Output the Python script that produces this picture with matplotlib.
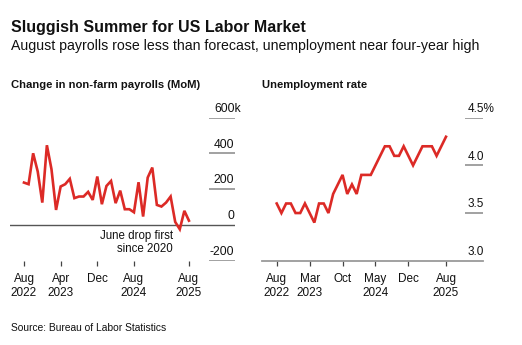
import matplotlib.pyplot as plt
import numpy as np

plt.rcParams['font.family'] = ['Liberation Sans', 'DejaVu Sans']

# monthly data, Aug 2022 .. Aug 2025
payrolls = [237, 228, 401, 299, 125, 446, 312, 84, 215, 228, 258, 150, 159, 159,
            185, 140, 271, 116, 218, 246, 122, 192, 88, 88, 71, 239, 47, 265,
            321, 112, 103, 125, 159, 17, -24, 79, 24]
unemployment = [3.6, 3.5, 3.6, 3.6, 3.5, 3.5, 3.6, 3.5, 3.4, 3.6, 3.6, 3.5, 3.7,
                3.8, 3.9, 3.7, 3.8, 3.7, 3.9, 3.9, 3.9, 4.0, 4.1, 4.2, 4.2, 4.1,
                4.1, 4.2, 4.1, 4.0, 4.1, 4.2, 4.2, 4.2, 4.1, 4.2, 4.3]

left_ticks = [0, 8, 16, 24, 36]
left_labels = ['Aug\n2022', 'Apr\n2023', 'Dec', 'Aug\n2024', 'Aug\n2025']
right_ticks = [0, 7, 14, 21, 28, 36]
right_labels = ['Aug\n2022', 'Mar\n2023', 'Oct', 'May\n2024', 'Dec', 'Aug\n2025']

left_yvals = [600, 400, 200, 0, -200]
left_ylabels = ['600k', '400', '200', '0', '-200']
right_yvals = [4.5, 4.0, 3.5, 3.0]
right_ylabels = ['4.5%', '4.0', '3.5', '3.0']

RED = '#dc2a26'
GRID = '#9a9a9a'
TXT = '#111111'

W, H = 522, 345
fig = plt.figure(figsize=(W / 100, H / 100), dpi=100)


def px_axes(x0, y0, x1, y1):
    # pixel box (top-left origin) -> figure axes
    return fig.add_axes([x0 / W, 1 - y1 / H, (x1 - x0) / W, (y1 - y0) / H])


x = np.arange(len(payrolls))

# ---- left: payrolls
ax1 = px_axes(10, 117.7, 235, 260.7)
ax1.set_xlim(-3.05, 46.05)
ax1.set_ylim(-200, 600)
ax1.axhline(0, color='#555555', lw=1.0, zorder=1)
for v in [600, 400, 200, -200]:
    ax1.hlines(v, 0.884, 1.0, transform=ax1.get_yaxis_transform(), color=GRID, lw=1.3)
yt = ax1.get_yaxis_transform()
for v, lab in zip(left_yvals, left_ylabels):
    # the "k" unit hangs past the number column
    xr = 1.026 if lab.endswith('k') else 0.9956
    ax1.annotate(lab, (xr, v), xycoords=yt, xytext=(0, 2),
                 textcoords='offset points', ha='right', va='bottom',
                 fontsize=8.7, color=TXT, annotation_clip=False)
ax1.plot(x, payrolls, color=RED, lw=1.9, solid_joinstyle='miter', zorder=3)
ax1.text(32.5, -30, 'June drop first\nsince 2020', ha='right', va='top',
         fontsize=8.3, color=TXT, linespacing=1.1)

# ---- right: unemployment
ax2 = px_axes(262, 117.7, 483, 260.7)
ax2.set_xlim(-3.13, 43.87)
ax2.set_ylim(3.0, 4.5)
ax2.axhline(3.0, color=GRID, lw=1.3, clip_on=False)
for v in [4.5, 4.0, 3.5]:
    ax2.hlines(v, 0.92, 1.0, transform=ax2.get_yaxis_transform(), color=GRID, lw=1.3)
for v, lab in zip(right_yvals, right_ylabels):
    ax2.annotate(lab, (0.931, v), xycoords=ax2.get_yaxis_transform(),
                 xytext=(0, 2), textcoords='offset points',
                 ha='left', va='bottom', fontsize=8.5, color=TXT)
ax2.plot(x, unemployment, color=RED, lw=1.9, solid_joinstyle='miter', zorder=3)

for ax, t, l in [(ax1, left_ticks, left_labels), (ax2, right_ticks, right_labels)]:
    for s in ax.spines.values():
        s.set_visible(False)
    ax.set_yticks([])
    ax.set_xticks(t)
    ax.set_xticklabels(l, fontsize=8.5, color=TXT, linespacing=1.3)
    ax.tick_params(axis='x', length=3.5, width=0.9, color='#444444', pad=5)
    ax.patch.set_alpha(0)

# ---- titles
fig.text(11 / W, 1 - 31.7 / H, 'Sluggish Summer for US Labor Market',
         fontsize=11.5, fontweight='bold', color=TXT, va='baseline')
fig.text(11 / W, 1 - 50 / H,
         'August payrolls rose less than forecast, unemployment near four-year high',
         fontsize=10.2, color=TXT, va='baseline')
fig.text(11 / W, 1 - 88.5 / H, 'Change in non-farm payrolls (MoM)',
         fontsize=8.1, fontweight='bold', color=TXT, va='baseline')
fig.text(262 / W, 1 - 88.5 / H, 'Unemployment rate',
         fontsize=8.1, fontweight='bold', color=TXT, va='baseline')
fig.text(11 / W, 1 - 331 / H, 'Source: Bureau of Labor Statistics',
         fontsize=7.4, color=TXT, va='baseline')

fig.savefig('out.png', dpi=100)
